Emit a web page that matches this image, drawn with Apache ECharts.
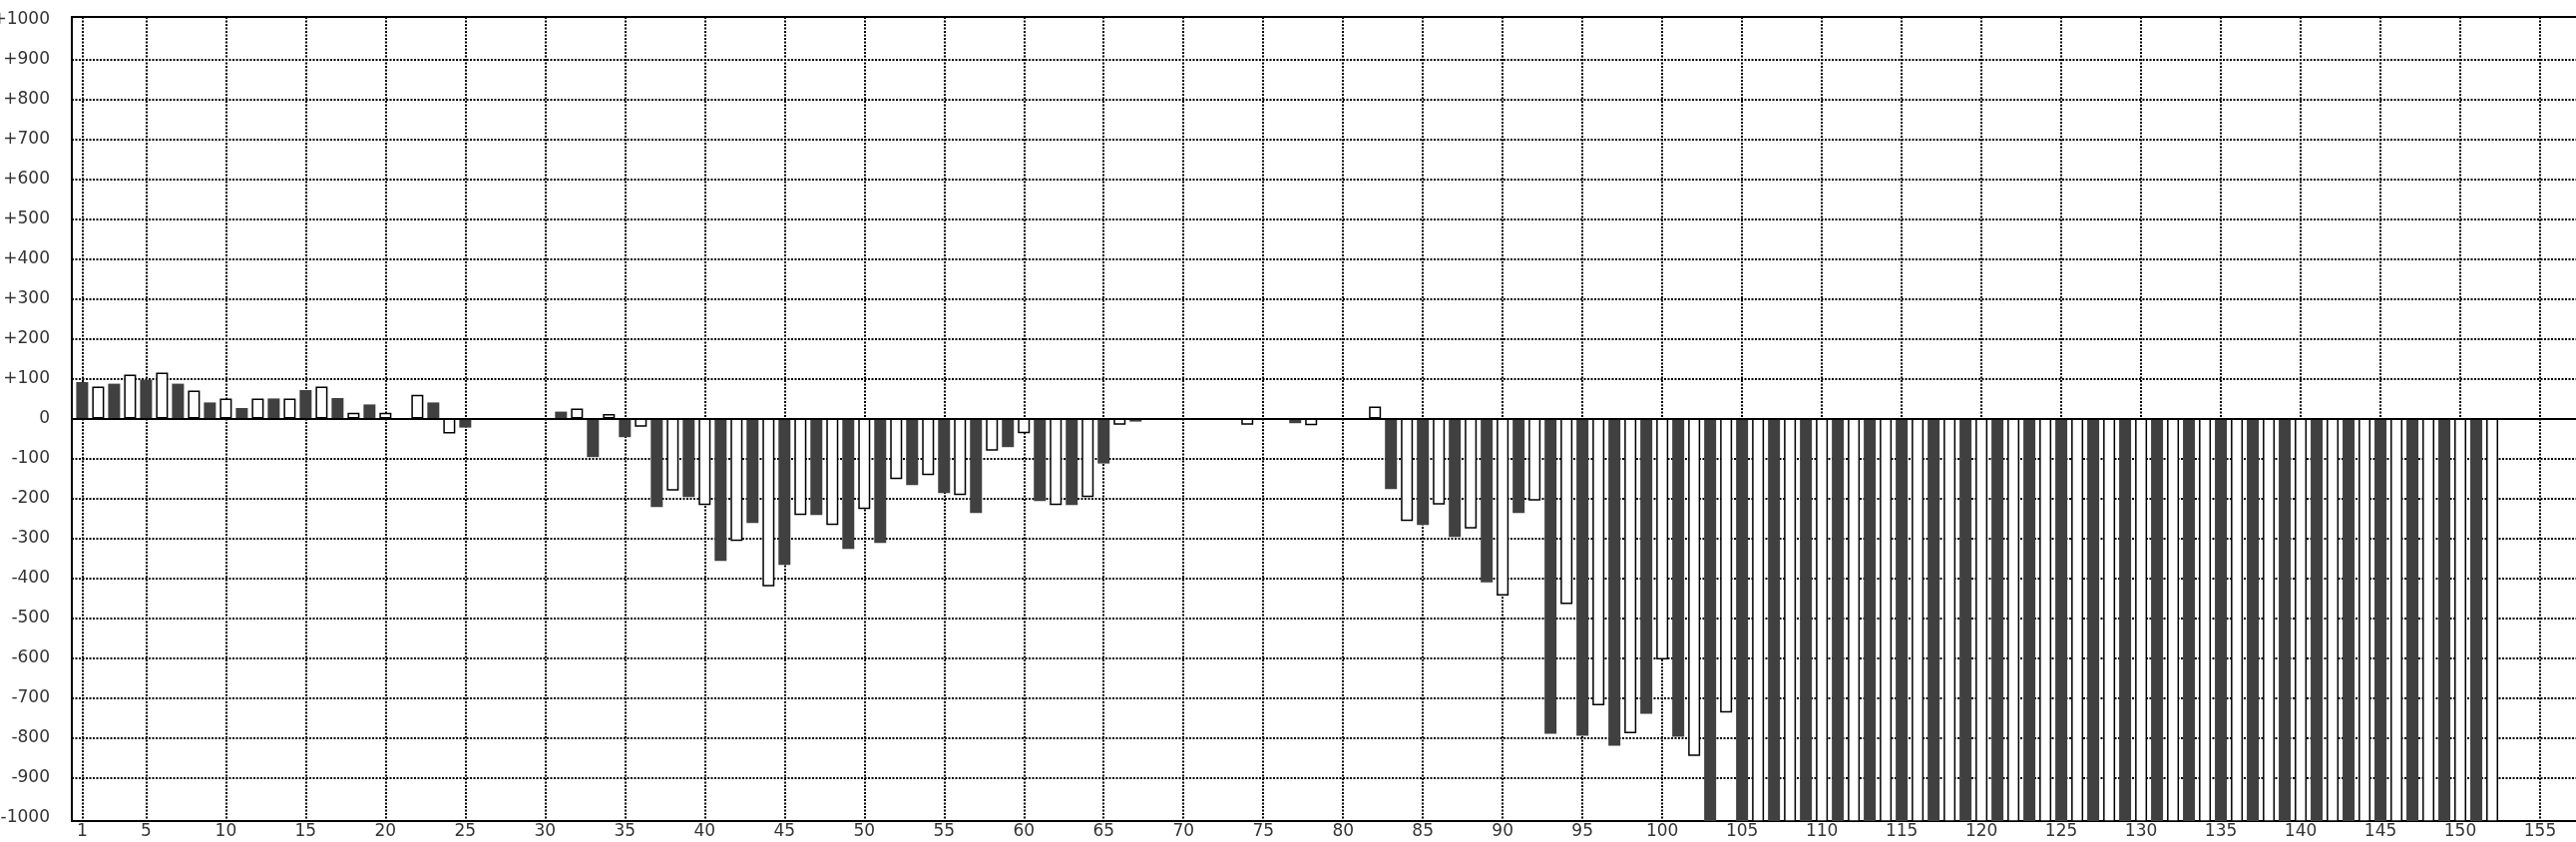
<!DOCTYPE html>
<html>
<head>
<meta charset="utf-8">
<script src="https://cdn.jsdelivr.net/npm/echarts@6/dist/echarts.min.js"></script>
<style>
html,body{margin:0;padding:0;background:#fff;}
#chart{width:2582px;height:844px;}
</style>
</head>
<body>
<div id="chart"></div>
<script>
// Category numbers (x positions) and values
const categories = Array.from({length: 152}, (_, i) => i + 1);
const values = [
  91, 80, 87, 110, 97, 115, 87, 70, 40, 50,            // 1-10
  26, 50, 50, 50, 71, 80, 51, 14, 35, 14,              // 11-20
  null, 59, 40, -38, -23, null, null, null, null, null,// 21-30
  17, 25, -97, 11, -47, -21, -222, -181, -197, -217,   // 31-40
  -357, -307, -262, -421, -367, -242, -242, -267, -327, -227, // 41-50
  -312, -152, -167, -142, -187, -192, -237, -81, -72, -37,    // 51-60
  -207, -217, -217, -197, -113, -16, -8, null, null, null,    // 61-70
  null, null, null, -16, null, null, -12, -17, null, null,    // 71-80
  null, 30, -177, -257, -267, -216, -297, -276, -411, -444,   // 81-90
  -237, -206, -790, -465, -795, -719, -820, -789, -740, -604, // 91-100
  -798, -846, -1050, -737, -1050, -1050, -1050, -1050, -1050, -1050, // 101-110
  -1050, -1050, -1050, -1050, -1050, -1050, -1050, -1050, -1050, -1050, // 111-120
  -1050, -1050, -1050, -1050, -1050, -1050, -1050, -1050, -1050, -1050, // 121-130
  -1050, -1050, -1050, -1050, -1050, -1050, -1050, -1050, -1050, -1050, // 131-140
  -1050, -1050, -1050, -1050, -1050, -1050, -1050, -1050, -1050, -1050, // 141-150
  -1050, -1050                                                 // 151-152
];
const xTickLabels = [1, 5, 10, 15, 20, 25, 30, 35, 40, 45, 50, 55, 60, 65, 70, 75, 80,
  85, 90, 95, 100, 105, 110, 115, 120, 125, 130, 135, 140, 145, 150, 155];
const yTickLabels = [-1000, -900, -800, -700, -600, -500, -400, -300, -200, -100, 0,
  100, 200, 300, 400, 500, 600, 700, 800, 900, 1000];
const yGridValues = [-900, -800, -700, -600, -500, -400, -300, -200, -100, 0,
  100, 200, 300, 400, 500, 600, 700, 800, 900];

const darkColor = '#404040';
const seriesData = categories.map((c, i) => ({
  value: [c, values[i]],
  itemStyle: (c % 2 === 1)
    ? { color: darkColor, borderWidth: 0 }
    : { color: '#ffffff', borderColor: '#000000', borderWidth: 1.5 }
})).filter(d => d.value[1] !== null);

const labelFont = { fontFamily: 'DejaVu Sans', fontSize: 17, color: '#333' };
const gridLine = { color: '#000', width: 2, type: [2, 1.5] };

const chart = echarts.init(document.getElementById('chart'), null, { renderer: 'canvas' });
chart.setOption({
  animation: false,
  backgroundColor: '#ffffff',
  grid: {
    left: 72, top: 17, right: -44, bottom: 21,
    containLabel: false, outerBoundsMode: 'none',
    show: true, borderColor: '#000', borderWidth: 2, backgroundColor: 'transparent'
  },
  xAxis: {
    type: 'value',
    min: 0.35, max: 160,
    axisLine: { show: true, onZero: false, lineStyle: { color: '#000', width: 2 } },
    axisTick: { show: false, customValues: xTickLabels },
    axisLabel: Object.assign({ customValues: xTickLabels, margin: 2, showMinLabel: true, showMaxLabel: true }, labelFont),
    splitLine: { show: true, lineStyle: gridLine }
  },
  yAxis: {
    type: 'value',
    min: -1009, max: 1006,
    axisLine: { show: true, lineStyle: { color: '#000', width: 2 } },
    axisTick: { show: false, customValues: yGridValues },
    axisLabel: Object.assign({
      customValues: yTickLabels, margin: 22,
      formatter: v => (v > 0 ? '+' + v : String(v))
    }, labelFont),
    splitLine: { show: true, lineStyle: gridLine }
  },
  series: [{
    type: 'bar',
    barWidth: 12,
    clip: true,
    data: seriesData,
    markLine: {
      silent: true,
      symbol: 'none',
      label: { show: false },
      lineStyle: { color: '#000', width: 2, type: 'solid' },
      data: [{ yAxis: 0 }]
    }
  }]
});
</script>
</body>
</html>
